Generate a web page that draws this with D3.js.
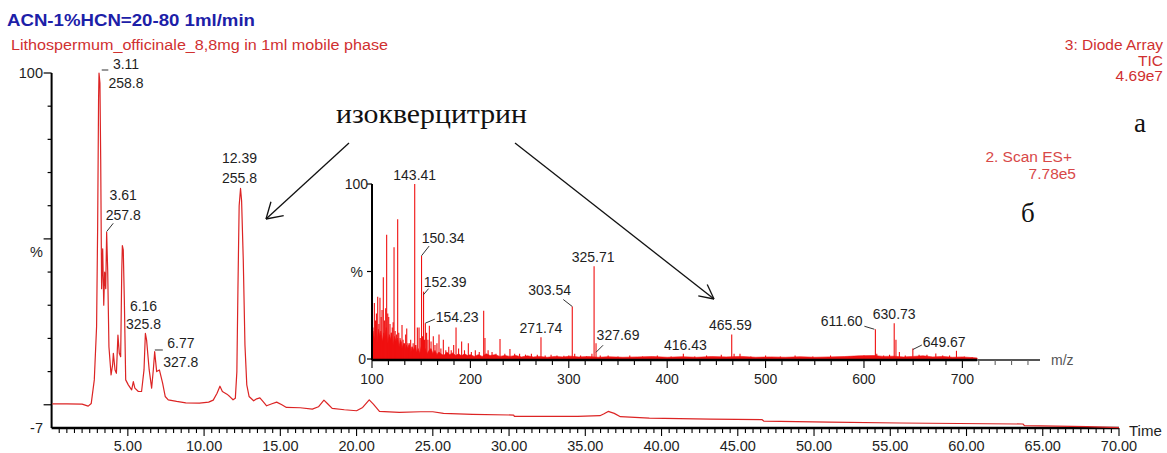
<!DOCTYPE html>
<html>
<head>
<meta charset="utf-8">
<script src="https://cdn.jsdelivr.net/npm/d3@7"></script>
<style>
  body { margin: 0; background: #fff; }
  svg { display: block; font-family: Arial, "Liberation Sans", sans-serif; }
</style>
</head>
<body>
<svg id="chart" width="1167" height="453"></svg>
<script>
// ---- TIC trace (time in min, relative %)
const chromTime = [0.05, 1.0, 2.0, 2.4, 2.6, 2.8, 2.95, 3.02, 3.08, 3.11, 3.17, 3.22, 3.28, 3.35, 3.42, 3.48, 3.55, 3.61, 3.68, 3.76,
  3.9, 4.0, 4.05, 4.16, 4.25, 4.35, 4.44, 4.53, 4.6, 4.64, 4.7, 4.77, 4.86, 5.03, 5.25, 5.36, 5.46, 5.69, 5.9, 6.06,
  6.15, 6.23, 6.4, 6.56, 6.67, 6.76, 6.89, 7.07, 7.28, 7.45, 7.65, 8.2, 8.8, 9.7, 10.3, 10.6, 10.85, 11.04, 11.2, 11.5,
  11.7, 11.9, 12.05, 12.15, 12.22, 12.3, 12.39, 12.46, 12.57, 12.68, 12.8, 12.95, 13.25, 13.45, 13.66, 13.9, 14.1, 14.45, 14.76, 15.1,
  15.4, 16.3, 17.1, 17.5, 17.86, 18.1, 18.4, 19.2, 20.0, 20.4, 20.83, 21.1, 21.5, 22.8, 24.2, 25.0, 25.7, 27.6, 30.3, 30.35,
  34.5, 35.96, 36.2, 36.5, 36.9, 37.3, 39.2, 43.2, 46.6, 46.7, 51.0, 55.6, 63.7, 63.8, 67.9, 70.0];
const chromPct = [0.3, 0.3, 0.2, -0.4, 0.4, 7.5, 23.5, 53.7, 92, 100, 97, 74, 35, 47, 30, 40, 35, 52, 40, 17.5,
  9, 12, 15.5, 10.5, 9.5, 21, 15.5, 14.5, 40, 48, 46.7, 31.6, 7.5, 6, 4.5, 7, 5, 4, 4, 10.5,
  21.5, 19.5, 10.5, 5, 10.5, 16, 10, 10.5, 6.5, 2.5, 1.5, 1.0, 0.6, 0.5, 0.8, 1.4, 3.5, 5.6, 4, 3.2,
  2.4, 1.5, 2, 10, 35, 60, 65.2, 61.5, 43.6, 18, 6, 2.5, 1.2, 1.8, 2.1, 0.8, -0.3, 0.3, 0.8, 0.0,
  -0.8, -0.9, -1.3, -0.6, 1.4, 0.3, -1.1, -1.5, -1.8, -0.8, 1.5, 0.2, -2.0, -2.3, -2.1, -2.1, -2.6, -2.9, -3.1, -3.5,
  -3.5, -3.3, -2.8, -2.0, -2.6, -3.6, -4.0, -4.3, -4.5, -4.9, -5.2, -5.5, -5.8, -6.3, -6.6, -6.9];

// labelled chromatogram peaks
const chromPeakTime = [3.11, 3.61, 6.16, 6.77, 12.39];
const chromPeakPct = [100, 52.2, 21.5, 16, 65.2];
const chromPeakLambda = ['258.8', '257.8', '325.8', '327.8', '255.8'];

// ---- ES+ spectrum (m/z, relative %)
const specMz = [101, 102.4, 103.5, 104.5, 105.8, 107, 108.1, 109.3, 110.2, 111.5, 112.6, 113.9, 114.9, 116, 117, 118.3, 119.5, 120.6, 121.5, 122.4,
  123.5, 124.8, 126.1, 127.2, 128.5, 129.6, 130.5, 131.6, 133, 134.2, 135.3, 136.5, 137.8, 139.3, 140.5, 141.8, 143.41, 144.6, 146.1, 147.8,
  149, 150.34, 151.3, 152.39, 153.3, 154.23, 155.5, 156.8, 158.3, 160, 162.3, 164, 166, 168.1, 170, 172.5, 175, 178, 180.5, 183,
  185.4, 188, 191.1, 194, 197.9, 201, 205, 209, 213.5, 214.8, 218, 222, 226, 230.1, 235, 240.2, 245, 250, 256, 262,
  268, 271.74, 276, 282, 288, 295, 300, 303.54, 306, 312, 318, 323.5, 325.71, 327.69, 332, 340, 350, 362, 375, 390,
  404, 416.43, 428, 440, 455, 465.59, 468, 474, 485, 500, 515, 530, 548, 566, 585, 600, 611.6, 613, 620, 626,
  630.73, 632.5, 636, 642, 649.67, 656, 664, 673, 680, 687, 694, 702, 710];
const specPct = [18, 32, 22, 26, 35.6, 20, 35, 24, 28, 46.7, 22, 29, 71, 26, 24, 20, 15, 18, 21, 63.8,
  16, 14, 79.8, 15, 12, 10, 19.4, 11, 9, 14, 17.5, 9, 8, 11, 7, 9, 100, 8, 18, 18,
  12, 59, 13, 38.5, 11, 20.5, 15, 11, 19, 10, 13, 8, 9, 14, 6, 11, 5, 7, 5, 8,
  18, 6, 10, 5, 9, 4, 5, 4, 27.6, 12, 5, 4, 3, 11.4, 3, 5.7, 3, 3, 2.5, 3,
  2.5, 12.5, 2, 2.5, 2, 1.8, 2, 30, 3, 2, 1.5, 3, 53, 9, 2, 2, 1.5, 2, 1.5, 2,
  1.5, 3, 1.5, 2, 2.5, 14, 3, 3, 1.5, 2, 1.5, 2, 1.5, 2, 1.5, 2, 17, 3, 2, 2.5,
  20.5, 11, 4, 2, 6, 2.5, 2.5, 3.2, 2, 2, 4.7, 1.5, 1];

// baseline noise envelope of the spectrum [m/z, %]
const specNoise = [[100, 0], [100, 12], [101, 16], [102.5, 11], [104, 15], [105, 9], [106.5, 17], [108, 13], [109, 16], [110.5, 10],
  [112, 15], [113, 12], [114.5, 18], [116, 9], [117.5, 14], [119, 11], [120, 15], [121.5, 8], [123, 13], [124.5, 10],
  [126, 12], [127.5, 7], [129, 11], [130.5, 6], [132, 9], [133.5, 5], [135, 8], [136.5, 6], [138, 9], [139.5, 4],
  [141, 7], [142.5, 5], [144, 8], [145.5, 4], [147, 6], [148.5, 3], [150, 7], [152, 4], [154, 6], [156, 3],
  [158, 5], [160, 6], [162, 3], [164, 5], [166, 2.5], [168, 4], [170, 3], [173, 2], [176, 4], [179, 2.5],
  [182, 3.5], [185, 2], [188, 3], [191, 1.8], [194, 3], [197, 2], [200, 2.5], [204, 1.5], [208, 2.5], [212, 1.5],
  [216, 3], [220, 2], [225, 2.5], [230, 1.5], [235, 2], [240, 1.5], [246, 2], [252, 1.2], [258, 1.8], [264, 1.2],
  [270, 1.5], [278, 1], [286, 1.5], [294, 1.2], [302, 1.6], [310, 1.2], [320, 1.4], [330, 1], [340, 1.3], [355, 1],
  [370, 1.2], [385, 1.4], [400, 1], [415, 1.3], [430, 1], [445, 1.4], [460, 1.2], [475, 1.5], [490, 1], [505, 1.2],
  [520, 1], [535, 1.3], [550, 1], [565, 1.2], [580, 1.4], [595, 1.8], [610, 2], [620, 1.5], [630, 1.6], [640, 1.2],
  [650, 1.5], [660, 1.8], [670, 1.2], [680, 1.5], [690, 1], [700, 1.2], [710, 0.8], [715, 0.6], [715, 0]];

// labelled spectrum peaks
const specLabelMz = [143.41, 150.34, 152.39, 154.23, 271.74, 303.54, 325.71, 327.69, 416.43, 465.59, 611.60, 630.73, 649.67];
const specLabelPct = [100, 59, 38.5, 20.5, 12.5, 30, 53, 9, 3, 14, 17, 20.5, 6];

// ---- layout / styling (not data)
const chromLabelLayout = [
  { dx: 27, dy1: -3.7, dy2: 15.3, leader: [2.7, -3, 9.3, -3] },
  { dx: 16.6, dy1: -31.6, dy2: -11.6, leader: [0, 0, 6.6, -8.3] },
  { dx: -2, dy1: -22.7, dy2: -4.1, leader: null },
  { dx: 26, dy1: -3.4, dy2: 15, leader: [0, -1.7, 8, -1.7] },
  { dx: -1, dy1: -25, dy2: -5, leader: null }
];
const specLabelLayout = [
  { dx: 0, dy: -4, leader: null },
  { dx: 21.6, dy: -12.4, leader: [0, 0, 7.6, -9.7] },
  { dx: 21.6, dy: -4.9, leader: [0, 3, 5, -3] },
  { dx: 31.7, dy: -1.4, leader: [0, 0, 9.5, -4] },
  { dx: 0, dy: -3.8, leader: null },
  { dx: -22.6, dy: -11.5, leader: [0, 0, -9, -7] },
  { dx: -1, dy: -4.5, leader: null },
  { dx: 22, dy: -3.2, leader: [0, 9, 7, 2] },
  { dx: 2, dy: -3.7, leader: null },
  { dx: -1.4, dy: -5, leader: null },
  { dx: -33.8, dy: -3.2, leader: [-11, -3, -1, 0] },
  { dx: 0, dy: -3.8, leader: null },
  { dx: 31.4, dy: -1.8, leader: [0, 1, 9, -3.5] }
];

const traceRed = '#dc2424';
const stickRed = '#f01010';
const textDark = '#1e1e1e';
const serif = '"Times New Roman", "Liberation Serif", "DejaVu Serif", serif';

const svg = d3.select('#chart');

// ================= main chromatogram =================
const x = d3.scaleLinear().domain([0, 70]).range([51.6, 1119]);
const y = d3.scaleLinear().domain([-7, 100]).range([428, 73]);

// y axis
svg.append('line')
  .attr('x1', x(0)).attr('x2', x(0))
  .attr('y1', y(100)).attr('y2', y(-7))
  .attr('stroke', '#000').attr('stroke-width', 2);
svg.append('g').selectAll('line')
  .data(d3.range(0, 101, 10))
  .join('line')
  .attr('x1', (d) => x(0) - (d % 50 === 0 ? 8 : 4)).attr('x2', x(0))
  .attr('y1', (d) => y(d)).attr('y2', (d) => y(d))
  .attr('stroke', '#000').attr('stroke-width', 1.2);

svg.append('text').attr('x', 43).attr('y', 78).attr('text-anchor', 'end')
  .attr('font-size', 14.5).attr('fill', textDark).text('100');
svg.append('text').attr('x', 43).attr('y', 257).attr('text-anchor', 'end')
  .attr('font-size', 14.5).attr('fill', textDark).text('%');
svg.append('text').attr('x', 43).attr('y', 433).attr('text-anchor', 'end')
  .attr('font-size', 14.5).attr('fill', textDark).text('-7');

// x axis
svg.append('line')
  .attr('x1', x(0)).attr('x2', x(70))
  .attr('y1', y(-7)).attr('y2', y(-7))
  .attr('stroke', '#000').attr('stroke-width', 2.4);
svg.append('g').selectAll('line')
  .data(d3.range(0.5, 70.01, 0.5))
  .join('line')
  .attr('x1', (d) => x(d)).attr('x2', (d) => x(d))
  .attr('y1', y(-7)).attr('y2', (d) => y(-7) + (Math.abs(d % 5) < 1e-6 ? 8 : 5))
  .attr('stroke', '#000').attr('stroke-width', 1.1);
svg.append('g').selectAll('text')
  .data(d3.range(5, 70.01, 5))
  .join('text')
  .attr('x', (d) => x(d)).attr('y', 451)
  .attr('text-anchor', 'middle')
  .attr('font-size', 14.5).attr('fill', textDark)
  .text((d) => d3.format('.2f')(d));
svg.append('text').attr('x', 1129).attr('y', 436)
  .attr('font-size', 15).attr('fill', textDark).text('Time');

// trace
const chromPoints = chromTime.map((t, i) => [t, chromPct[i]]);
svg.append('path')
  .datum(chromPoints)
  .attr('fill', 'none')
  .attr('stroke', traceRed)
  .attr('stroke-width', 1.2)
  .attr('stroke-linejoin', 'round')
  .attr('d', d3.line().x((d) => x(d[0])).y((d) => y(d[1])));

// peak labels
chromPeakTime.forEach((t, i) => {
  const px = x(t);
  const py = y(chromPeakPct[i]);
  const L = chromLabelLayout[i];
  svg.append('text').attr('x', px + L.dx).attr('y', py + L.dy1)
    .attr('text-anchor', 'middle').attr('font-size', 14).attr('fill', textDark)
    .text(d3.format('.2f')(t));
  svg.append('text').attr('x', px + L.dx).attr('y', py + L.dy2)
    .attr('text-anchor', 'middle').attr('font-size', 14).attr('fill', textDark)
    .text(chromPeakLambda[i]);
  if (L.leader) {
    svg.append('line')
      .attr('x1', px + L.leader[0]).attr('y1', py + L.leader[1])
      .attr('x2', px + L.leader[2]).attr('y2', py + L.leader[3])
      .attr('stroke', '#333').attr('stroke-width', 1);
  }
});

// ================= inset spectrum =================
const sx = d3.scaleLinear().domain([100, 778.9]).range([372, 1040]);
const sy = d3.scaleLinear().domain([0, 100]).range([359, 184]);

svg.append('path')
  .datum(specNoise)
  .attr('fill', stickRed)
  .attr('stroke', stickRed)
  .attr('stroke-width', 0.6)
  .attr('d', d3.line().x((d) => sx(d[0])).y((d) => sy(d[1])));

svg.append('g').selectAll('line')
  .data(specMz.map((m, i) => [m, specPct[i]]))
  .join('line')
  .attr('x1', (d) => sx(d[0])).attr('x2', (d) => sx(d[0]))
  .attr('y1', sy(0)).attr('y2', (d) => sy(d[1]))
  .attr('stroke', stickRed).attr('stroke-width', 1.1);

// inset axes
svg.append('line')
  .attr('x1', sx(100)).attr('x2', sx(100))
  .attr('y1', sy(100)).attr('y2', sy(0) + 1)
  .attr('stroke', '#000').attr('stroke-width', 2);
svg.append('g').selectAll('line')
  .data([0, 50, 100])
  .join('line')
  .attr('x1', sx(100) - 5).attr('x2', sx(100))
  .attr('y1', (d) => sy(d)).attr('y2', (d) => sy(d))
  .attr('stroke', '#000').attr('stroke-width', 1.2);
svg.append('text').attr('x', 368).attr('y', 189).attr('text-anchor', 'end')
  .attr('font-size', 14).attr('fill', textDark).text('100');
svg.append('text').attr('x', 363).attr('y', 277).attr('text-anchor', 'end')
  .attr('font-size', 14).attr('fill', textDark).text('%');
svg.append('text').attr('x', 366).attr('y', 364).attr('text-anchor', 'end')
  .attr('font-size', 14).attr('fill', textDark).text('0');

svg.append('line')
  .attr('x1', sx(100)).attr('x2', sx(715))
  .attr('y1', sy(0) + 1).attr('y2', sy(0) + 1)
  .attr('stroke', '#000').attr('stroke-width', 2.4);
svg.append('line')
  .attr('x1', sx(715)).attr('x2', sx(778.9))
  .attr('y1', sy(0) + 1).attr('y2', sy(0) + 1)
  .attr('stroke', '#555').attr('stroke-width', 2.2);
svg.append('g').selectAll('line')
  .data(d3.range(100, 778, 100 / 6))
  .join('line')
  .attr('x1', (d) => sx(d)).attr('x2', (d) => sx(d))
  .attr('y1', sy(0) + 1)
  .attr('y2', (d) => sy(0) + (Math.abs(d % 100) < 1e-6 || Math.abs(d % 100 - 100) < 1e-6 ? 9 : 6))
  .attr('stroke', (d) => (d > 715 ? '#666' : '#000')).attr('stroke-width', 1.1);
svg.append('g').selectAll('text')
  .data(d3.range(100, 701, 100))
  .join('text')
  .attr('x', (d) => sx(d)).attr('y', 384)
  .attr('text-anchor', 'middle')
  .attr('font-size', 14).attr('fill', textDark)
  .text((d) => d);
svg.append('text').attr('x', 1051).attr('y', 365)
  .attr('font-size', 14).attr('fill', '#555').text('m/z');

// spectrum labels
specLabelMz.forEach((m, i) => {
  const px = sx(m);
  const py = sy(specLabelPct[i]);
  const L = specLabelLayout[i];
  svg.append('text').attr('x', px + L.dx).attr('y', py + L.dy)
    .attr('text-anchor', 'middle').attr('font-size', 14).attr('fill', textDark)
    .text(d3.format('.2f')(m));
  if (L.leader) {
    svg.append('line')
      .attr('x1', px + L.leader[0]).attr('y1', py + L.leader[1])
      .attr('x2', px + L.leader[2]).attr('y2', py + L.leader[3])
      .attr('stroke', '#333').attr('stroke-width', 1);
  }
});

// ================= titles / annotations =================
svg.append('text').attr('x', 7).attr('y', 26)
  .attr('font-size', 17).attr('font-weight', 'bold').attr('fill', '#1c20a8')
  .attr('textLength', 248).attr('lengthAdjust', 'spacingAndGlyphs')
  .text('ACN-1%HCN=20-80 1ml/min');
svg.append('text').attr('x', 11).attr('y', 50)
  .attr('font-size', 15.5).attr('fill', '#d03030')
  .attr('textLength', 377).attr('lengthAdjust', 'spacingAndGlyphs')
  .text('Lithospermum_officinale_8,8mg in 1ml mobile phase');

const rightInfo = ['3: Diode Array', 'TIC', '4.69e7'];
svg.append('g').selectAll('text')
  .data(rightInfo)
  .join('text')
  .attr('x', 1163).attr('y', (d, i) => 50 + i * 15.5)
  .attr('text-anchor', 'end')
  .attr('font-size', 15.5).attr('fill', '#d03030')
  .text((d) => d);

const scanInfo = ['2. Scan ES+', '7.78e5'];
svg.append('g').selectAll('text')
  .data(scanInfo)
  .join('text')
  .attr('x', (d, i) => (i === 0 ? 1072 : 1076)).attr('y', (d, i) => 161.5 + i * 17.5)
  .attr('text-anchor', 'end')
  .attr('font-size', 15.5).attr('fill', '#d84848')
  .text((d) => d);

svg.append('text').attr('x', 336).attr('y', 123)
  .style('font-family', serif).attr('font-size', 27).attr('fill', '#111')
  .attr('textLength', 191).attr('lengthAdjust', 'spacingAndGlyphs')
  .text('изокверцитрин');
svg.append('text').attr('x', 1134).attr('y', 132)
  .style('font-family', serif).attr('font-size', 27).attr('fill', '#111').text('а');
svg.append('text').attr('x', 1021).attr('y', 222)
  .style('font-family', serif).attr('font-size', 27).attr('fill', '#111').text('б');

function arrow(x1, y1, x2, y2, len, spread) {
  const a = Math.atan2(y1 - y2, x1 - x2);
  const g = svg.append('g').attr('stroke', '#111').attr('stroke-width', 1.3).attr('fill', 'none');
  g.append('line').attr('x1', x1).attr('y1', y1).attr('x2', x2).attr('y2', y2);
  [-spread, spread].forEach((s) => {
    g.append('line')
      .attr('x1', x2).attr('y1', y2)
      .attr('x2', x2 + len * Math.cos(a + s)).attr('y2', y2 + len * Math.sin(a + s));
  });
}
arrow(349, 143, 266, 219, 18, 0.55);
arrow(515, 143, 714, 299, 16, 0.47);
</script>
</body>
</html>
